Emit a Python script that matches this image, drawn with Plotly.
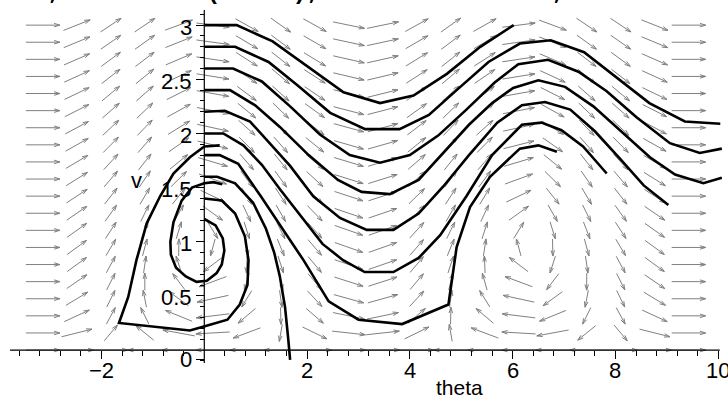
import numpy as np
import plotly.graph_objects as go

# ---------------- data ----------------
# direction field of the glider system: theta' = (v^2 - cos(theta))/v , v' = -sin(theta)
theta_grid = np.linspace(-np.pi, 3 * np.pi, 20)
v_grid = np.linspace(0, 3, 20)

# solution curves (theta, v)
c1_t = [0, 0.63, 1.33, 2.0, 2.71, 3.42, 4.07, 4.72, 5.37, 6.02]
c1_v = [3.0, 3.0, 2.85, 2.62, 2.38, 2.28, 2.35, 2.55, 2.80, 3.0]
c2_t = [0, 0.6, 1.25, 1.8, 2.45, 3.13, 3.8, 4.37, 4.91, 5.53, 6.14, 6.74, 7.39, 8.0, 8.66, 9.35, 10.04]
c2_v = [2.8, 2.8, 2.66, 2.45, 2.19, 2.04, 2.04, 2.17, 2.40, 2.66, 2.83, 2.86, 2.75, 2.52, 2.28, 2.11, 2.09]
c3_t = [0, 0.56, 1.12, 1.67, 2.25, 2.83, 3.42, 4.0, 4.55, 5.1, 5.65, 6.11, 6.69, 7.28, 7.83, 8.41, 9.06, 9.64, 10.07]
c3_v = [2.6, 2.6, 2.48, 2.25, 1.99, 1.80, 1.73, 1.80, 1.98, 2.22, 2.47, 2.64, 2.68, 2.57, 2.39, 2.15, 1.91, 1.82, 1.86]
c4_t = [0, 0.5, 0.99, 1.47, 2.03, 2.6, 3.06, 3.61, 4.17, 4.65, 5.15, 5.6, 6.01, 6.5, 7.02, 7.57, 8.15, 8.67, 9.16, 9.71, 10.07]
c4_v = [2.4, 2.4, 2.26, 2.06, 1.8, 1.57, 1.46, 1.44, 1.57, 1.82, 2.08, 2.28, 2.42, 2.49, 2.43, 2.25, 2.0, 1.78, 1.62, 1.54, 1.59]
c5_t = [0, 0.4, 0.89, 1.21, 1.67, 2.12, 2.64, 3.16, 3.68, 4.17, 4.65, 5.15, 5.7, 6.18, 6.63, 7.12, 7.6, 8.1, 8.55, 9.03]
c5_v = [2.2, 2.21, 2.11, 1.94, 1.70, 1.42, 1.22, 1.11, 1.11, 1.26, 1.51, 1.8, 2.1, 2.26, 2.29, 2.22, 2.02, 1.76, 1.52, 1.34]
c6_t = [0, 0.37, 0.76, 1.12, 1.48, 1.85, 2.3, 2.7, 3.12, 3.68, 4.17, 4.59, 5.1, 5.6, 6.18, 6.56, 6.95, 7.37, 7.83]
c6_v = [2.0, 2.0, 1.89, 1.71, 1.48, 1.25, 0.98, 0.83, 0.72, 0.72, 0.85, 1.06, 1.42, 1.8, 2.08, 2.10, 2.03, 1.88, 1.63]
c7_t = [0, 0.3, 0.66, 1.1, 1.55, 1.93, 2.42, 3.0, 3.85, 4.75, 4.91, 5.17, 5.56, 6.14, 6.5, 6.86]
c7_v = [1.8, 1.8, 1.72, 1.42, 1.1, 0.83, 0.45, 0.28, 0.24, 0.42, 0.95, 1.32, 1.6, 1.86, 1.89, 1.83]
c8_t = [0, 0.25, 0.6, 0.95, 1.2, 1.36, 1.47, 1.57, 1.63, 1.67]
c8_v = [1.6, 1.6, 1.54, 1.36, 1.12, 0.9, 0.68, 0.40, 0.12, -0.09]
c9_t = [0, 0.34, 0.6, 0.79, 0.86, 0.84, 0.69, 0.45, 0.01, -0.28, -1.66, -1.48, -1.32, -1.12,
        -0.86, -0.6, -0.28, 0, 0.3]
c9_v = [1.40, 1.38, 1.26, 1.05, 0.83, 0.6, 0.42, 0.28, 0.22, 0.18, 0.25, 0.49, 0.83, 1.17,
        1.42, 1.63, 1.78, 1.88, 1.89]
c10_t = [0, 0.22, 0.36, 0.39, 0.34, 0.24, 0.05, -0.15, -0.36, -0.55, -0.65, -0.66, -0.6, -0.44,
         -0.24, 0, 0.18, 0.35]
c10_v = [1.21, 1.15, 1.03, 0.92, 0.79, 0.71, 0.64, 0.63, 0.68, 0.76, 0.88, 1.0, 1.18, 1.38,
         1.5, 1.54, 1.55, 1.53]

curves = [(c1_t, c1_v), (c2_t, c2_v), (c3_t, c3_v), (c4_t, c4_v), (c5_t, c5_v),
          (c6_t, c6_v), (c7_t, c7_v), (c8_t, c8_v), (c9_t, c9_v), (c10_t, c10_v)]

x_ticks = [-2, 2, 4, 6, 8, 10]
x_ticktext = ["\u22122", "2", "4", "6", "8", "10"]
y_ticks = [0.5, 1, 1.5, 2, 2.5, 3]
y_ticktext = ["0.5", "1", "1.5", "2", "2.5", "3"]
title_text = "Figure 11, v' = -sin(theta), linecolor=black, method=classical"

# ---------------- geometry ----------------
W, H = 728, 399
xr = [-3.975, 10.19]
yr = [-0.452, 3.232]
sx = W / (xr[1] - xr[0])
sy = H / (yr[1] - yr[0])

dth = theta_grid[1] - theta_grid[0]
dv = v_grid[1] - v_grid[0]

ax, ay = [], []
for th in theta_grid:
    for v in v_grid:
        vv = v if v > 0 else 1e-9
        f = (vv * vv - np.cos(th)) / vv
        g = -np.sin(th)
        u, w = f / dth, g / dv
        n = np.hypot(u, w)
        u, w = u / n, w / n
        px, py = u * dth * sx, w * dv * sy
        x0, y0 = th - px / 2 / sx, v - py / 2 / sy
        x1, y1 = th + px / 2 / sx, v + py / 2 / sy
        ax += [x0, x1, None]
        ay += [y0, y1, None]
        L = np.hypot(px, py)
        if L > 0:
            ux, uy = px / L, py / L
            hl = min(6.0, 0.4 * L)
            for ang in (0.3, -0.3):
                ca, sa = np.cos(ang), np.sin(ang)
                bx = -(ux * ca - uy * sa) * hl
                by = -(ux * sa + uy * ca) * hl
                ax += [x1, x1 + bx / sx, None]
                ay += [y1, y1 + by / sy, None]

fig = go.Figure()
fig.add_trace(go.Scatter(x=ax, y=ay, mode="lines", line=dict(color="#808080", width=1),
                         hoverinfo="skip", showlegend=False))
for t, v in curves:
    fig.add_trace(go.Scatter(x=t, y=v, mode="lines", line=dict(color="black", width=2.6),
                             hoverinfo="skip", showlegend=False))

font = dict(family="Liberation Sans, Arial, sans-serif", size=22, color="black")
px0 = (0 - yr[0]) / (yr[1] - yr[0])
py0 = (0 - xr[0]) / (xr[1] - xr[0])

minor_y = [round(k * 0.1, 1) for k in range(-1, 32) if k % 5 != 0]
fig.update_layout(
    width=W, height=H, margin=dict(l=0, r=0, t=0, b=0),
    paper_bgcolor="white", plot_bgcolor="white",
    xaxis=dict(range=xr, showgrid=False, zeroline=False, showline=False,
               anchor="free", position=px0, ticks="outside", ticklen=8, tickcolor="black",
               tickvals=x_ticks, showticklabels=False,
               minor=dict(tickvals=[round(k * 0.4, 1) for k in range(-9, 26) if k % 5 != 0],
                          ticks="outside", ticklen=5, tickcolor="black")),
    yaxis=dict(range=yr, showgrid=False, zeroline=False, showline=False,
               anchor="free", position=py0, ticks="outside", ticklen=8, tickcolor="black",
               tickvals=y_ticks + [-0.09], showticklabels=False,
               minor=dict(tickvals=minor_y, ticks="outside", ticklen=4, tickcolor="black")),
)
# axis lines
fig.add_shape(type="line", x0=-3.78, x1=10.03, y0=0, y1=0, line=dict(color="black", width=1.2), layer="above")
fig.add_shape(type="line", x0=0, x1=0, y0=-0.12, y1=3.14, line=dict(color="black", width=1.2), layer="above")
# tick labels
for val, txt in zip(x_ticks, x_ticktext):
    fig.add_annotation(x=val, y=0, text=txt, showarrow=False, font=font,
                       xanchor="center", yanchor="middle", yshift=-20)
for val, txt in zip(y_ticks, y_ticktext):
    fig.add_annotation(x=0, y=val, text=txt, showarrow=False, font=font,
                       xanchor="right", yanchor="middle", xshift=-10, yshift=-2)
fig.add_annotation(x=0, y=-0.09, text="0", showarrow=False, font=font, xanchor="right",
                   yanchor="middle", xshift=-10)
fig.add_annotation(x=4.97, y=0, text="theta", showarrow=False,
                   font=dict(family=font["family"], size=21, color="black"),
                   yanchor="middle", yshift=-37)
fig.add_annotation(x=-1.31, y=1.57, text="v", showarrow=False, font=font, yanchor="middle")
# title line (cut off by the top edge, as in the original)
fig.add_annotation(xref="paper", yref="paper", x=0.5, y=1, text="<b>" + title_text + "</b>",
                   showarrow=False,
                   font=dict(family="Liberation Mono, Courier New, monospace", size=24, color="black"),
                   xanchor="center", yanchor="middle", yshift=8)
fig.write_html("out.html")
